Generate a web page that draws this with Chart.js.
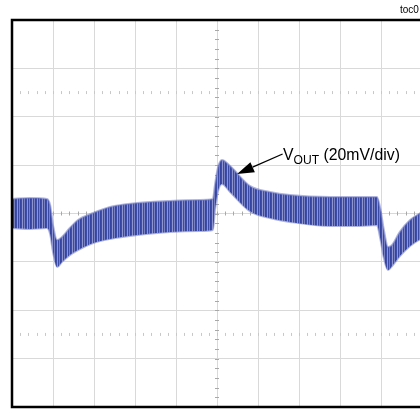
<!DOCTYPE html>
<html>
<head>
<meta charset="utf-8">
<script src="https://cdn.jsdelivr.net/npm/chart.js@4/dist/chart.umd.min.js"></script>
<style>
  html, body { margin: 0; padding: 0; background: #fff; overflow: hidden; width: 420px; height: 410px; }
  canvas { display: block; }
</style>
</head>
<body>
<canvas id="scope" width="430" height="410"></canvas>
<script>
// envelope of the ripple band (x in divisions, y in mV)
const xDiv    = [0, 0.44, 0.85, 0.93, 1.0, 1.1, 1.22, 1.41, 1.61, 1.98, 2.39, 3.05, 3.85, 4.59, 4.90, 4.95, 5.02, 5.12, 5.32, 5.80, 6.29, 6.78, 7.76, 8.49, 8.90, 8.98, 9.07, 9.17, 9.27, 9.46, 9.71, 10.0];
const upperMv = [6.0, 6.4, 6.0, 3.5, -4.8, -11.0, -9.7, -6.0, -2.7, 0.2, 2.7, 4.3, 5.2, 5.6, 6.0, 11.8, 18.8, 22.1, 19.6, 11.4, 8.9, 7.6, 6.8, 6.8, 6.8, 2.3, -6.8, -13.8, -13.0, -7.6, -2.7, 0.6];
const lowerMv = [-6.0, -6.4, -6.0, -8.5, -15.9, -22.1, -20.0, -17.2, -15.1, -12.2, -10.5, -8.9, -7.6, -7.2, -6.8, 1.4, 8.9, 12.2, 8.9, 1.0, -1.9, -3.5, -5.2, -5.2, -4.8, -10.1, -18.4, -23.4, -21.7, -17.6, -13.4, -10.1];

const refLinesMv = [50, -50];   // dotted reference lines
const label = { x: 6.61, y: 22.1, main: 'V', sub: 'OUT', rest: ' (20mV/div)' };
const arrow = { fromX: 6.6, fromY: 24.6, toX: 5.49, toY: 16.3 };

function stripes() {
  const c = document.createElement('canvas');
  c.width = 5; c.height = 4;
  const g = c.getContext('2d');
  const cols = ['#34449f', '#3e4ea8', '#8e95d0', '#3a4aa5', '#7880c4'];
  cols.forEach((col, i) => { g.fillStyle = col; g.fillRect(i, 0, 1, 4); });
  return g.createPattern(c, 'repeat');
}

const pts = arr => xDiv.map((x, i) => ({ x: x, y: arr[i] }));

const scopeDeco = {
  id: 'scopeDeco',
  beforeDatasetsDraw(chart) {
    const { ctx, scales: { x, y } } = chart;
    ctx.save();
    ctx.strokeStyle = '#a8a8a8';
    ctx.lineWidth = 1;
    ctx.beginPath();
    const cx = x.getPixelForValue(5), cy = y.getPixelForValue(0);
    for (let v = -80; v <= 80; v += 4) {
      const py = Math.round(y.getPixelForValue(v)) + 0.5;
      ctx.moveTo(cx - 2, py); ctx.lineTo(cx + 2, py);
    }
    for (let d = 0; d <= 10; d += 0.2) {
      const px = Math.round(x.getPixelForValue(d)) + 0.5;
      ctx.moveTo(px, cy - 2); ctx.lineTo(px, cy + 2);
    }
    ctx.stroke();
    ctx.strokeStyle = '#c8c8c8';
    ctx.beginPath();
    refLinesMv.forEach(v => {
      const py = y.getPixelForValue(v);
      for (let d = 0.2; d < 10; d += 0.2) {
        const px = Math.round(x.getPixelForValue(d)) + 0.5;
        ctx.moveTo(px, py - 1.5); ctx.lineTo(px, py + 1.5);
      }
    });
    ctx.stroke();
    ctx.restore();
  },
  afterDatasetsDraw(chart) {
    const { ctx, chartArea: a, scales: { x, y } } = chart;
    ctx.save();
    ctx.strokeStyle = '#000';
    ctx.lineWidth = 2.5;
    ctx.strokeRect(a.left, a.top, a.right - a.left, a.bottom - a.top);

    // arrow
    const x1 = x.getPixelForValue(arrow.fromX), y1 = y.getPixelForValue(arrow.fromY);
    const x2 = x.getPixelForValue(arrow.toX), y2 = y.getPixelForValue(arrow.toY);
    const ang = Math.atan2(y2 - y1, x2 - x1);
    const hl = 17, hw = 5.5;
    const bx = x2 - hl * Math.cos(ang), by = y2 - hl * Math.sin(ang);
    ctx.lineWidth = 1.3;
    ctx.beginPath(); ctx.moveTo(x1, y1); ctx.lineTo(bx, by); ctx.stroke();
    ctx.fillStyle = '#000';
    ctx.beginPath();
    ctx.moveTo(x2, y2);
    ctx.lineTo(bx + hw * Math.sin(ang), by - hw * Math.cos(ang));
    ctx.lineTo(bx - hw * Math.sin(ang), by + hw * Math.cos(ang));
    ctx.closePath(); ctx.fill();

    // label, slightly condensed
    ctx.save();
    ctx.translate(x.getPixelForValue(label.x), y.getPixelForValue(label.y));
    ctx.scale(0.93, 1);
    ctx.textBaseline = 'alphabetic';
    let tx = 0;
    ctx.font = '17px "Liberation Sans", Arial, sans-serif';
    ctx.fillText(label.main, tx, 0);
    tx += ctx.measureText(label.main).width;
    ctx.font = '13px "Liberation Sans", Arial, sans-serif';
    ctx.fillText(label.sub, tx, 4);
    tx += ctx.measureText(label.sub).width;
    ctx.font = '17px "Liberation Sans", Arial, sans-serif';
    ctx.fillText(label.rest, tx, 0);
    ctx.restore();

    ctx.font = '10px "Liberation Sans", Arial, sans-serif';
    ctx.fillText('toc0', 400, 13);
    ctx.restore();
  }
};

const ctx = document.getElementById('scope').getContext('2d');
const band = stripes();

new Chart(ctx, {
  type: 'line',
  data: {
    datasets: [{
      label: 'VOUT upper',
      data: pts(upperMv),
      borderColor: 'rgba(110,120,195,0.55)',
      borderWidth: 2,
      backgroundColor: band,
      fill: '+1',
      pointRadius: 0,
      cubicInterpolationMode: 'monotone'
    }, {
      label: 'VOUT lower',
      data: pts(lowerMv),
      borderColor: 'rgba(110,120,195,0.55)',
      borderWidth: 2,
      fill: false,
      pointRadius: 0,
      cubicInterpolationMode: 'monotone'
    }]
  },
  options: {
    responsive: false,
    animation: false,
    events: [],
    layout: { padding: { left: 12, top: 20, right: 8, bottom: 3 } },
    plugins: { legend: { display: false }, tooltip: { enabled: false } },
    scales: {
      x: {
        type: 'linear', min: 0, max: 10,
        ticks: { display: false, stepSize: 1 },
        grid: { color: '#d9d9d9', drawTicks: false },
        border: { display: false }
      },
      y: {
        min: -80, max: 80,
        ticks: { display: false, stepSize: 20 },
        grid: { color: '#d9d9d9', drawTicks: false },
        border: { display: false }
      }
    }
  },
  plugins: [scopeDeco]
});
</script>
</body>
</html>
